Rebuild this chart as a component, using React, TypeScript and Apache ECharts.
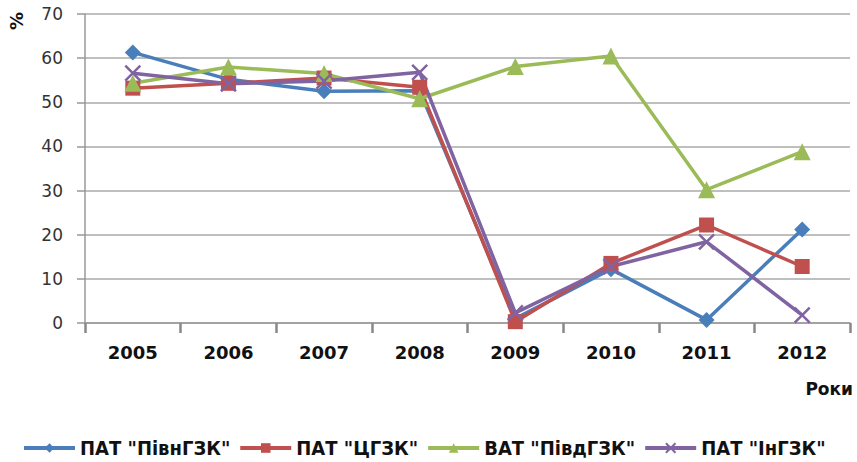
import React, { useEffect, useRef } from "react";
import * as echarts from "echarts";

const categories = ["2005", "2006", "2007", "2008", "2009", "2010", "2011", "2012"];
const seriesNames = ['ПАТ "ПівнГЗК"', 'ПАТ "ЦГЗК"', 'ВАТ "ПівдГЗК"', 'ПАТ "ІнГЗК"'];
const pivnGZK = [61.3, 55.2, 52.5, 52.6, 1.0, 12.2, 0.7, 21.2];
const tsGZK = [53.2, 54.3, 55.5, 53.4, 0.3, 13.5, 22.2, 12.8];
const pivdGZK = [54.3, 58.0, 56.5, 50.8, 58.1, 60.5, 30.2, 38.8];
const inGZK = [56.6, 54.2, 54.8, 56.8, 2.3, 12.8, 18.4, 1.8];
const yTicks = { min: 0, max: 70, interval: 10 };

const colors = ["#4A7EBB", "#C0504D", "#9BBB59", "#8064A2"];
const symbols = ["diamond", "rect", "triangle", "path://M0,0 L10,10 M10,0 L0,10"];
const symbolSizes = [16, 15, 17, 15];

export default function App() {
  const ref = useRef<HTMLDivElement>(null);
  useEffect(() => {
    document.body.style.margin = "0";
    const chart = echarts.init(ref.current!, undefined, { renderer: "svg" });
    const data = [pivnGZK, tsGZK, pivdGZK, inGZK];
    chart.setOption({
      animation: false,
      backgroundColor: "#ffffff",
      grid: { left: 85, right: 7, top: 14, bottom: 139, containLabel: false },
      legend: {
        data: seriesNames,
        left: 22,
        top: 437,
        padding: 0,
        itemWidth: 51,
        itemHeight: 12,
        itemGap: 8,
        lineStyle: { width: 4 },
        textStyle: {
          fontFamily: "'Liberation Sans Narrow', 'DejaVu Sans Condensed', 'Arial Narrow', sans-serif",
          fontWeight: "bold",
          fontSize: 20,
          lineHeight: 22,
          color: "#111",
        },
      },
      xAxis: {
        type: "category",
        data: categories,
        boundaryGap: true,
        axisLine: { lineStyle: { color: "#999", width: 1.5 } },
        axisTick: { show: true, length: 10, lineStyle: { color: "#888", width: 2.5 } },
        axisLabel: {
          margin: 20,
          fontFamily: "'DejaVu Sans', sans-serif",
          fontWeight: "bold",
          fontSize: 18,
          color: "#111",
        },
        splitLine: { show: false },
      },
      yAxis: {
        type: "value",
        min: yTicks.min,
        max: yTicks.max,
        interval: yTicks.interval,
        axisLine: { show: true, lineStyle: { color: "#999", width: 1.5 } },
        axisTick: { show: true, length: 8, lineStyle: { color: "#999", width: 1.5 } },
        axisLabel: {
          margin: 22,
          fontFamily: "'DejaVu Sans', sans-serif",
          fontSize: 17,
          color: "#333",
        },
        splitLine: { show: true, lineStyle: { color: "#aaa", width: 1.5 } },
      },
      graphic: [
        {
          type: "text",
          x: 16,
          y: 21,
          rotation: Math.PI / 2,
          style: {
            text: "%",
            fontFamily: "'DejaVu Sans', sans-serif",
            fontWeight: "bold",
            fontSize: 18,
            fill: "#111",
            align: "center",
            verticalAlign: "middle",
          },
        },
        {
          type: "text",
          x: 853,
          y: 389,
          style: {
            text: "Роки",
            fontFamily: "'DejaVu Sans', sans-serif",
            fontWeight: "bold",
            fontSize: 17,
            fill: "#111",
            align: "right",
            verticalAlign: "middle",
          },
        },
      ],
      series: seriesNames.map((name, i) => ({
        name,
        type: "line",
        data: data[i],
        symbol: symbols[i],
        symbolSize: symbolSizes[i],
        showAllSymbol: true,
        lineStyle: { color: colors[i], width: 3.5 },
        itemStyle:
          i === 3
            ? { color: colors[i], borderColor: colors[i], borderWidth: 2.5 }
            : { color: colors[i] },
        emphasis: { disabled: true },
      })),
    });
    return () => chart.dispose();
  }, []);
  return <div ref={ref} style={{ position: "absolute", left: 0, top: 0, width: 857, height: 462 }} />;
}
